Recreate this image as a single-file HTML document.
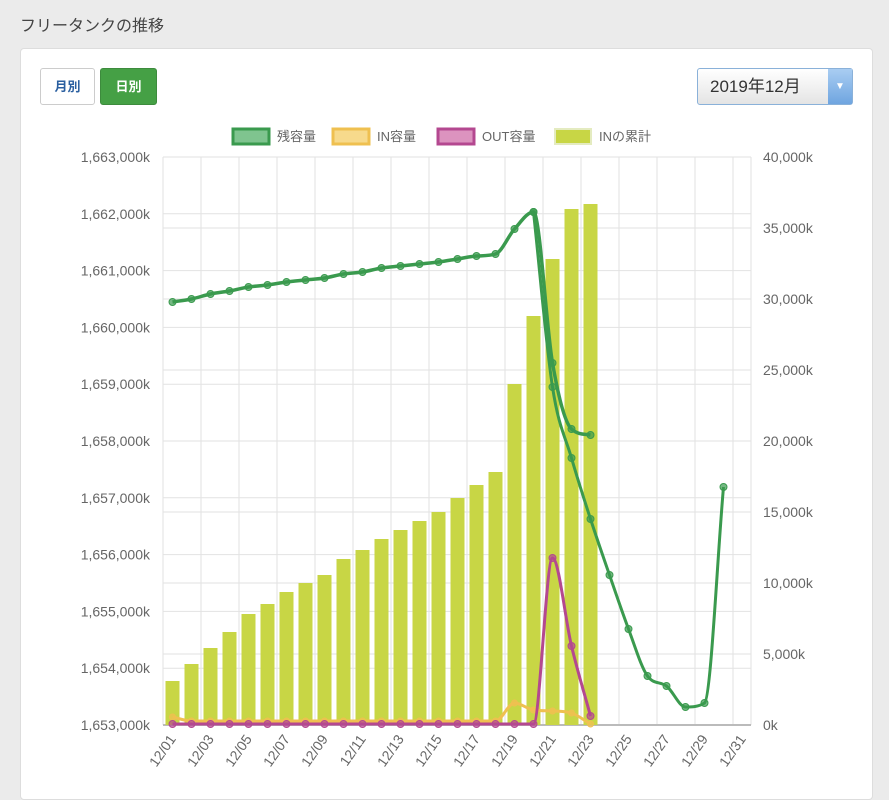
<!DOCTYPE html>
<html><head><meta charset="utf-8"><style>
body{margin:0;width:889px;height:788px;background:#ebebeb;font-family:"Liberation Sans","Noto Sans CJK JP",sans-serif;overflow:hidden;position:relative}
.title{position:absolute;left:20px;top:12px;font-size:16px;color:#444}
.card{position:absolute;left:20px;top:48px;width:851px;height:750px;background:#fff;border:1px solid #ddd;border-radius:4px}
.b1{position:absolute;left:40px;top:68px;width:53px;height:35px;border:1px solid #ccc;border-radius:3px;color:#2a5fa0;font-size:13px;font-weight:bold;text-align:center;line-height:35px;background:#fff}
.b2{position:absolute;left:100px;top:68px;width:55px;height:35px;border:1px solid #3d8b3d;border-radius:3px;color:#fff;font-size:13px;font-weight:bold;text-align:center;line-height:35px;background:#45a045}
.sel{position:absolute;left:697px;top:68px;width:154px;height:35px;border:1px solid #8ab1d9;border-radius:3px;background:linear-gradient(#fff,#e4e4e4);font-size:17px;color:#333;line-height:35px}
.sel span{position:absolute;left:12px}
.sel i{position:absolute;right:0;top:0;width:24px;height:35px;background:linear-gradient(#a9cdf2,#6fa5e0);color:#fff;font-style:normal;font-size:10px;text-align:center}
</style></head><body>
<div class="title">フリータンクの推移</div>
<div class="card"></div>
<div class="b1">月別</div><div class="b2">日別</div>
<div class="sel"><span>2019年12月</span><i>▼</i></div>
<svg width="889" height="788" style="position:absolute;left:0;top:0" font-family="Liberation Sans, Noto Sans CJK JP, sans-serif">
<g font-size="13" fill="#666">
<rect x="233" y="129" width="36" height="15" fill="#7fc48f" stroke="#3a9a4e" stroke-width="3"/><text x="277" y="141">残容量</text>
<rect x="333" y="129" width="36" height="15" fill="#f7da8c" stroke="#efc050" stroke-width="3"/><text x="377" y="141">IN容量</text>
<rect x="438" y="129" width="36" height="15" fill="#dc93bf" stroke="#b44890" stroke-width="3"/><text x="482" y="141">OUT容量</text>
<rect x="555" y="129" width="36" height="15" fill="#c8d645" stroke="#e4ebc0" stroke-width="2"/><text x="599" y="141">INの累計</text>
</g>
<g stroke="#e2e2e2" stroke-width="1" id="grid"></g>
<g id="lab" font-size="14" fill="#666"></g>
<g id="bars" fill="#c8d645"></g>
<g id="lines"></g>
</svg>
<script>
const ns="http://www.w3.org/2000/svg";
function el(p,t,a,txt){const e=document.createElementNS(ns,t);for(const k in a)e.setAttribute(k,a[k]);if(txt)e.textContent=txt;document.getElementById(p).appendChild(e);return e;}
const L=163,R=751,T=157,B=725;
for(let i=0;i<=10;i++){const y=T+(B-T)*i/10;el("grid","line",{x1:L,x2:R,y1:y,y2:y});
el("lab","text",{x:150,y:y+5,"text-anchor":"end"},(1663-i).toLocaleString("en-US").replace(/^(\d)(\d{3})$/,"$1,$2")+",000k");}
for(let i=0;i<=8;i++){const y=T+(B-T)*i/8;el("grid","line",{x1:L,x2:R,y1:y,y2:y});
el("lab","text",{x:763,y:y+5},((8-i)*5000).toLocaleString("en-US")+"k");}
for(let x=L;x<=R;x+=38)el("grid","line",{x1:x,x2:x,y1:T,y2:B});
el("grid","line",{x1:R,x2:R,y1:T,y2:B});
el("grid","line",{x1:L,x2:R,y1:B,y2:B,stroke:"#bbb","stroke-width":2});
const cx=d=>L+19*(d-0.5);
for(let d=1;d<=31;d+=2){const x=cx(d)+4,y=B+14;el("lab","text",{x:x,y:y,"text-anchor":"end",transform:`rotate(-55 ${x} ${y})`},"12/"+String(d).padStart(2,"0"));}
const bt=[681,664,648,632,614,604,592,583,575,559,550,539,530,521,512,498,485,472,384,316,259,209,204];
bt.forEach((t,i)=>el("bars","rect",{x:cx(i+1)-7,y:t,width:14,height:B-t}));
function path(p){const n=p.length,h=19,s=[],m=[];
for(let i=0;i<n-1;i++)s.push((p[i+1][1]-p[i][1])/h);
for(let i=0;i<n;i++){if(i==0)m.push(s[0]);else if(i==n-1)m.push(s[n-2]);else m.push(s[i-1]*s[i]<=0?0:(s[i-1]+s[i])/2);}
for(let i=0;i<n-1;i++){if(s[i]==0){m[i]=m[i+1]=0;continue;}const a=m[i]/s[i],b=m[i+1]/s[i],t=a*a+b*b;if(t>9){const k=3/Math.sqrt(t);m[i]=k*a*s[i];m[i+1]=k*b*s[i];}}
let d=`M${p[0][0]},${p[0][1]}`;
for(let i=0;i<n-1;i++){const x0=p[i][0],y0=p[i][1],x1=p[i+1][0],y1=p[i+1][1];
d+=` C${x0+h/3},${y0+m[i]*h/3} ${x1-h/3},${y1-m[i+1]*h/3} ${x1},${y1}`;}return d;}
function line(pts,c,w,r){el("lines","path",{d:path(pts),fill:"none",stroke:c,"stroke-width":w,"stroke-linejoin":"round"});
pts.forEach(p=>el("lines","circle",{cx:p[0],cy:p[1],r:r,fill:c,stroke:c,"fill-opacity":0.7}));}
const g=[302,299,294,291,287,285,282,280,278,274,272,268,266,264,262,259,256,254,229,212];
const gp=g.map((y,i)=>[cx(i+1),y]);
line(gp.concat([[cx(21),363],[cx(22),429],[cx(23),435]]),"#3a9a4e",3.5,3.5);
line([[cx(20),212],[cx(21),387],[cx(22),458],[cx(23),519],[cx(24),575],[cx(25),629],[cx(26),676],[cx(27),686],[cx(28),707],[cx(29),703],[cx(30),487]],"#3a9a4e",3,3.5);
const yel=[];for(let d=1;d<=18;d++)yel.push([cx(d),d==1?717:721]);
yel.push([cx(19),703],[cx(20),710],[cx(21),711],[cx(22),713],[cx(23),724]);
line(yel,"#efc050",3,3);
const pk=[];for(let d=1;d<=20;d++)pk.push([cx(d),724]);
pk.push([cx(21),558],[cx(22),646],[cx(23),716]);
line(pk,"#b44890",3,3.5);
</script>
</body></html>
